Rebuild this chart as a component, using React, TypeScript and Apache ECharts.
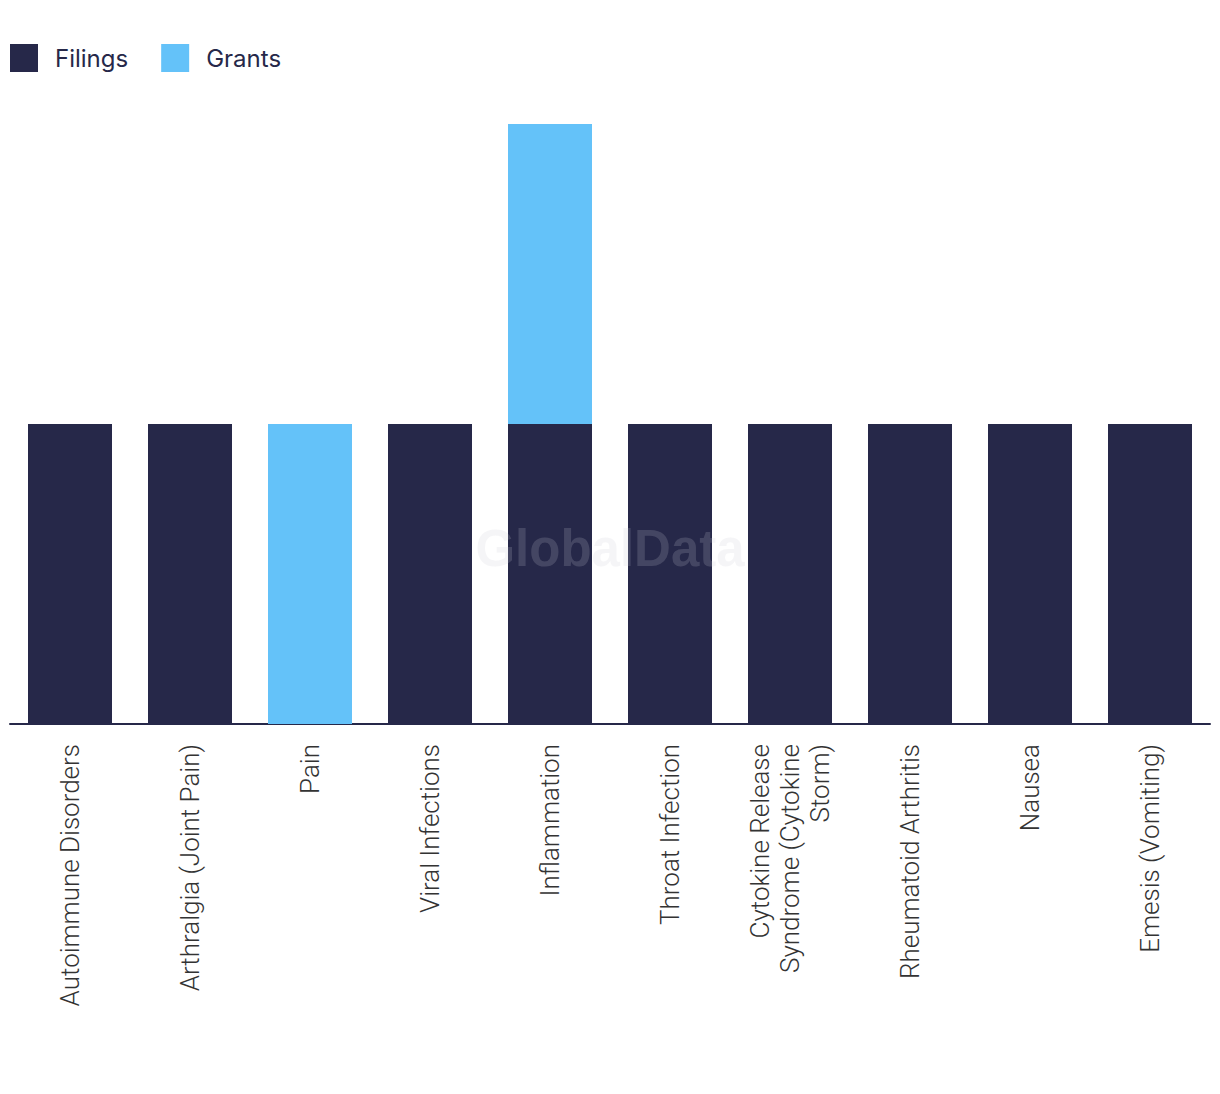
import React, { useEffect, useRef } from "react";
import * as echarts from "echarts";

const categories = [
  "Autoimmune Disorders",
  "Arthralgia (Joint Pain)",
  "Pain",
  "Viral Infections",
  "Inflammation",
  "Throat Infection",
  "Cytokine Release\nSyndrome (Cytokine\nStorm)",
  "Rheumatoid Arthritis",
  "Nausea",
  "Emesis (Vomiting)",
];
const filings = [1, 1, 0, 1, 1, 1, 1, 1, 1, 1];
const grants = [0, 0, 1, 0, 1, 0, 0, 0, 0, 0];

export default function App() {
  const ref = useRef<HTMLDivElement>(null);
  useEffect(() => {
    document.body.style.margin = "0";
    const chart = echarts.init(ref.current!, null, { renderer: "svg" });
    chart.setOption({
      animation: false,
      legend: {
        left: 10,
        top: 44,
        padding: 0,
        itemWidth: 28,
        itemHeight: 28,
        itemGap: 33,
        icon: "rect",
        textStyle: { fontSize: 24, color: "#262849", fontFamily: "Inter", padding: [0, 0, 2, 12] },
        data: ["Filings", "Grants"],
      },
      graphic: [
        {
          type: "text",
          x: 610,
          y: 548,
          z: 100,
          style: {
            text: "GlobalData",
            font: "bold 51px 'Liberation Sans'",
            fill: "rgba(203,203,215,0.19)",
            textAlign: "center",
            textVerticalAlign: "middle",
          },
        },
      ],
      grid: { left: 10, right: 10, top: 124, bottom: 370, containLabel: false },
      xAxis: {
        type: "category",
        data: categories,
        axisLine: { lineStyle: { color: "#262849", width: 2 } },
        axisTick: { show: false },
        axisLabel: {
          rotate: 90,
          margin: 20,
          interval: 0,
          fontSize: 26,
          fontWeight: 300,
          lineHeight: 30,
          color: "#333",
          fontFamily: "Roboto",
        },
      },
      yAxis: {
        type: "value",
        min: 0,
        max: 2,
        show: false,
        splitLine: { show: false },
      },
      series: [
        {
          name: "Filings",
          type: "bar",
          stack: "a",
          barWidth: "70%",
          data: filings,
          itemStyle: { color: "#262849" },
        },
        {
          name: "Grants",
          type: "bar",
          stack: "a",
          barWidth: "70%",
          data: grants,
          itemStyle: { color: "#64c2f9" },
        },
      ],
    });
    return () => chart.dispose();
  }, []);
  return <div ref={ref} style={{ width: 1220, height: 1094 }} />;
}
